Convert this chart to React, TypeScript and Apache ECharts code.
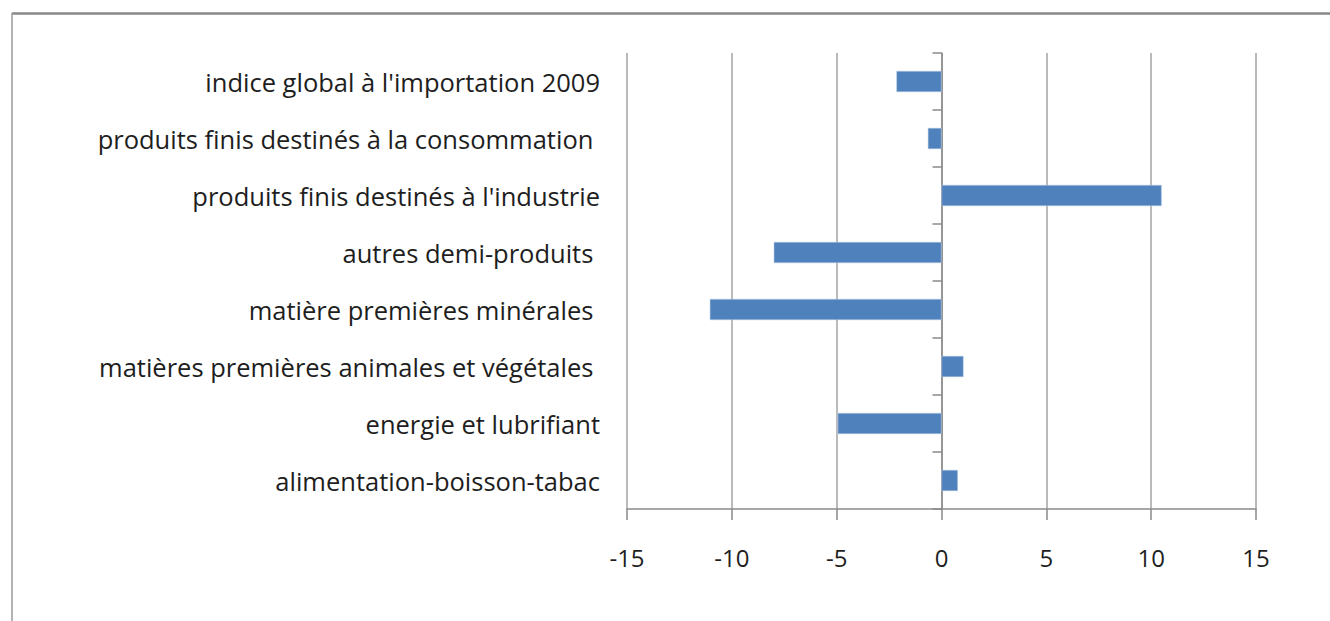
import React, { useEffect, useRef } from "react";
import * as echarts from "echarts";

const categories = [
  "alimentation-boisson-tabac",
  "energie et lubrifiant",
  "matières premières animales et végétales ",
  "matière premières minérales ",
  "autres demi-produits ",
  "produits finis destinés à l'industrie",
  "produits finis destinés à la consommation ",
  "indice global à l'importation 2009",
];
const values = [0.78, -4.95, 1.05, -11.05, -8.0, 10.5, -0.65, -2.15];
const xMin = -15;
const xMax = 15;
const xStep = 5;

export default function App() {
  const ref = useRef<HTMLDivElement>(null);
  useEffect(() => {
    if (!ref.current) return;
    const chart = echarts.init(ref.current, undefined, { renderer: "svg" });
    const font = "'Open Sans', 'Liberation Sans', sans-serif";
    const gridLeft = 627;
    const gridRight = 74;
    const gridTop = 53;
    const gridBottom = 112;
    const plotW = 1330 - gridLeft - gridRight;
    const zeroX = gridLeft + ((0 - xMin) / (xMax - xMin)) * plotW;
    chart.setOption({
      animation: false,
      backgroundColor: "#ffffff",
      grid: [
        { left: gridLeft, right: gridRight, top: gridTop, bottom: gridBottom, containLabel: false },
        { left: zeroX, right: 2, top: gridTop, bottom: gridBottom, containLabel: false },
      ],
      xAxis: [
        {
          type: "value",
          gridIndex: 0,
          min: xMin,
          max: xMax,
          interval: xStep,
          axisLine: { show: true, onZero: false, lineStyle: { color: "#8a8a8a", width: 1.5 } },
          axisTick: { show: true, length: 11, lineStyle: { color: "#8a8a8a", width: 1.5 } },
          axisLabel: { margin: 36, fontSize: 24, color: "#1e1e1e", fontFamily: font },
          splitLine: { show: true, lineStyle: { color: "#a3a3a3", width: 1.5 } },
        },
        { type: "value", gridIndex: 1, show: false, min: 0, max: 1 },
      ],
      yAxis: [
        {
          type: "category",
          gridIndex: 0,
          data: categories,
          axisLine: { show: false, onZero: false },
          axisTick: { show: false },
          splitLine: { show: false },
          axisLabel: { margin: 27, fontSize: 25.5, color: "#1e1e1e", fontFamily: font },
        },
        {
          type: "category",
          gridIndex: 1,
          data: categories,
          position: "left",
          axisLine: { show: true, onZero: false, lineStyle: { color: "#8a8a8a", width: 1.5 } },
          axisTick: { show: true, length: 9, lineStyle: { color: "#8a8a8a", width: 1.5 } },
          axisLabel: { show: false },
          splitLine: { show: false },
        },
      ],
      series: [
        {
          type: "bar",
          xAxisIndex: 0,
          yAxisIndex: 0,
          data: values,
          barCategoryGap: "63%",
          itemStyle: { color: "#4f81bd", borderColor: "#b9cde5", borderWidth: 0.5 },
        },
      ],
      graphic: [
        { type: "line", shape: { x1: 12, y1: 13.5, x2: 1330, y2: 13.5 }, style: { stroke: "#878787", lineWidth: 2.5 } },
        { type: "line", shape: { x1: 12, y1: 13, x2: 12, y2: 621 }, style: { stroke: "#9a9a9a", lineWidth: 1.5 } },
      ],
    });
    return () => chart.dispose();
  }, []);
  return (
    <div
      ref={ref}
      style={{ position: "fixed", left: 0, top: 0, width: 1330, height: 621 }}
    />
  );
}
